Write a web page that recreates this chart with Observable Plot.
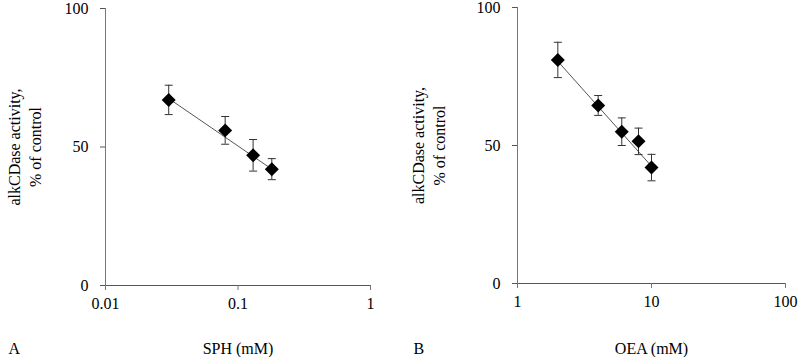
<!DOCTYPE html>
<html>
<head>
<meta charset="utf-8">
<script src="https://cdn.jsdelivr.net/npm/d3@7"></script>
<script src="https://cdn.jsdelivr.net/npm/@observablehq/plot@0.6"></script>
<style>
  html, body { margin: 0; padding: 0; background: #fff; }
  #wrap { display: flex; width: 801px; height: 357px; }
  #wrap svg, #wrap svg g, #wrap svg text {
    font-family: "Liberation Serif", "Times New Roman", serif !important;
    font-size: 16px !important;
  }
</style>
</head>
<body>
<div id="wrap"></div>
<script>
// Panel A: SPH
const sphConc = [0.03, 0.08, 0.13, 0.18];
const sphActivity = [67, 56, 47, 42];
const sphErr = [5.3, 5.0, 5.7, 3.8];
const sphTrendX = [0.03, 0.18];
const sphTrendY = [67.5, 42];
const sphTicks = [0.01, 0.1, 1];

// Panel B: OEA
const oeaConc = [2, 4, 6, 8, 10];
const oeaActivity = [81, 64.5, 55, 51.5, 42];
const oeaErr = [6.4, 3.6, 5.0, 4.8, 4.8];
const oeaTrendX = [2, 10];
const oeaTrendY = [80.5, 42.5];
const oeaTicks = [1, 10, 100];

const yTicks = [0, 50, 100];
const yLabel = "alkCDase activity,\n% of control";

const capSymbol = {
  draw(context, size) {
    const w = Math.sqrt(size / Math.PI);
    context.moveTo(-w, 0);
    context.lineTo(w, 0);
  }
};

function panel({conc, act, err, trendX, trendY, xTicks, letter, xLabel, width, ml, mr, mt, mb, labelDx, letterDx, bottomDy}) {
  const pts = conc.map((c, i) => ({x: c, y: act[i], lo: act[i] - err[i], hi: act[i] + err[i]}));
  const trend = trendX.map((x, i) => ({x, y: trendY[i]}));
  return Plot.plot({
    width, height: 357,
    marginLeft: ml, marginRight: mr, marginTop: mt, marginBottom: mb,
    style: {fontFamily: "Liberation Serif", fontSize: "16px", color: "#000", background: "#fff"},
    x: {type: "log", domain: [xTicks[0], xTicks[2]]},
    y: {domain: [0, 100]},
    marks: [
      Plot.ruleX([xTicks[0]], {stroke: "#777", strokeWidth: 1}),
      Plot.ruleY([0], {stroke: "#555", strokeWidth: 1}),
      Plot.axisY({ticks: yTicks, tickSize: 5, tickPadding: 12, stroke: "#555", label: null, tickFormat: d => String(d)}),
      Plot.axisX({ticks: xTicks, tickSize: 5, tickPadding: 7, stroke: "#777", label: null, tickFormat: d => String(d)}),
      Plot.line(trend, {x: "x", y: "y", stroke: "#555", strokeWidth: 1}),
      Plot.ruleX(pts, {x: "x", y1: "lo", y2: "hi", stroke: "#333", strokeWidth: 1}),
      Plot.dot(pts, {x: "x", y: "hi", symbol: capSymbol, r: 4, fill: "none", stroke: "#333", strokeWidth: 1}),
      Plot.dot(pts, {x: "x", y: "lo", symbol: capSymbol, r: 4, fill: "none", stroke: "#333", strokeWidth: 1}),
      Plot.dot(pts, {x: "x", y: "y", symbol: "diamond2", r: 6.3, fill: "#000", stroke: "none"}),
      Plot.text([yLabel], {frameAnchor: "left", text: d => d, rotate: -90, dx: labelDx, textAnchor: "middle", lineAnchor: "middle", lineHeight: 1.3, fill: "#000"}),
      Plot.text([letter], {frameAnchor: "bottom-left", text: d => d, dx: letterDx, dy: bottomDy, textAnchor: "start", lineAnchor: "middle", fill: "#000"}),
      Plot.text([xLabel], {frameAnchor: "bottom", text: d => d, dy: bottomDy, textAnchor: "middle", lineAnchor: "middle", fill: "#000"})
    ]
  });
}

const wrap = document.getElementById("wrap");
wrap.appendChild(panel({
  conc: sphConc, act: sphActivity, err: sphErr, trendX: sphTrendX, trendY: sphTrendY,
  xTicks: sphTicks, letter: "A", xLabel: "SPH (mM)",
  width: 400, ml: 105, mr: 30, mt: 8, mb: 72, labelDx: -82, letterDx: -97, bottomDy: 63
}));
wrap.appendChild(panel({
  conc: oeaConc, act: oeaActivity, err: oeaErr, trendX: oeaTrendX, trendY: oeaTrendY,
  xTicks: oeaTicks, letter: "B", xLabel: "OEA (mM)",
  width: 401, ml: 117, mr: 16, mt: 7, mb: 74, labelDx: -90, letterDx: -104, bottomDy: 65
}));
</script>
</body>
</html>
